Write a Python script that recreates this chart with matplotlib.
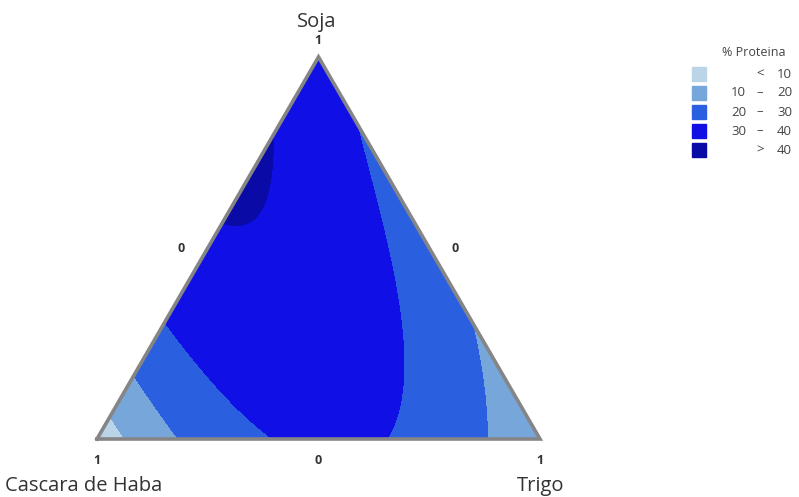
import numpy as np
import matplotlib.pyplot as plt
import matplotlib.tri as mtri

plt.rcParams['font.family'] = ['Open Sans', 'DejaVu Sans']

# puntos del diseño {3,3} (fracciones de Soja y Trigo) y % de proteina en cada uno
soja     = [0, 0, 0, 0, 1/3, 1/3, 1/3, 2/3, 2/3, 1]
trigo    = [0, 1/3, 2/3, 1, 0, 1/3, 2/3, 0, 1/3, 0]
proteina = [3.6, 28.0, 29.7, 11.3, 31.6, 36.3, 20.6, 41.0, 27.0, 33.6]

levels = [-100, 10, 20, 30, 40, 100]
colores = ['#bad5e8', '#77a6da', '#2a5fe0', '#1010e6', '#0a0aa6']
ley_izq = ['', '10', '20', '30', '']
ley_sim = ['<', '\u2013', '\u2013', '\u2013', '>']
ley_der = ['10', '20', '30', '40', '40']


def base(s, c, t):
    # modelo cubico completo de Scheffe
    return np.column_stack([s, c, t, s*c, s*t, c*t, s*c*(s-c), s*t*(s-t), c*t*(c-t), s*c*t])


S = np.array(soja)
T = np.array(trigo)
coef = np.linalg.solve(base(S, 1 - S - T, T), np.array(proteina))

# malla baricentrica
n = 160
pts = [(i/n, j/n) for i in range(n+1) for j in range(n+1-i)]
gs = np.array([p[0] for p in pts])
gt = np.array([p[1] for p in pts])
gc = 1 - gs - gt
z = base(gs, gc, gt) @ coef
tri = mtri.Triangulation(gt + gs/2, gs*np.sqrt(3)/2)

fig = plt.figure(figsize=(7.99, 4.97), dpi=100)
ax = fig.add_axes([97/799, (497-439)/497, 443/799, 382/497])
ax.tricontourf(tri, z, levels=levels, colors=colores)
h = np.sqrt(3)/2
ax.plot([0, 1, 0.5, 0], [0, 0, h, 0], color='#858585', lw=2.6, clip_on=False,
        solid_joinstyle='miter')
ax.set_xlim(0, 1)
ax.set_ylim(0, h)
ax.axis('off')

# vertices y marcas
tk = dict(fontsize=9, fontweight='bold', color='#333333', ha='center', va='center')
fig.text(318/799, 1 - 41/497, '1', **tk)
fig.text(181/799, 1 - 249/497, '0', **tk)
fig.text(455/799, 1 - 249/497, '0', **tk)
fig.text(97/799, 1 - 461/497, '1', **tk)
fig.text(318/799, 1 - 461/497, '0', **tk)
fig.text(540/799, 1 - 461/497, '1', **tk)
nm = dict(fontsize=14.5, color='#333333', ha='center', va='center')
fig.text(317/799, 1 - 22/497, 'Soja', **nm)
fig.text(84/799, 1 - 486/497, 'Cascara de Haba', **nm)
fig.text(541/799, 1 - 486/497, 'Trigo', **nm)

# leyenda
fig.text(754/799, 1 - 53/497, '% Proteina', fontsize=9, color='#444444', ha='center', va='center')
for i in range(5):
    yc = 74 + 19*i
    fig.patches.append(plt.Rectangle((692/799, 1 - (yc + 7)/497), 14/799, 14/497,
                                     transform=fig.transFigure, color=colores[i]))
    lt = dict(fontsize=9.5, color='#444444', va='center')
    fig.text(746/799, 1 - yc/497, ley_izq[i], ha='right', **lt)
    fig.text(760/799, 1 - yc/497, ley_sim[i], ha='center', **lt)
    fig.text(792/799, 1 - yc/497, ley_der[i], ha='right', **lt)

fig.savefig('out.png')
